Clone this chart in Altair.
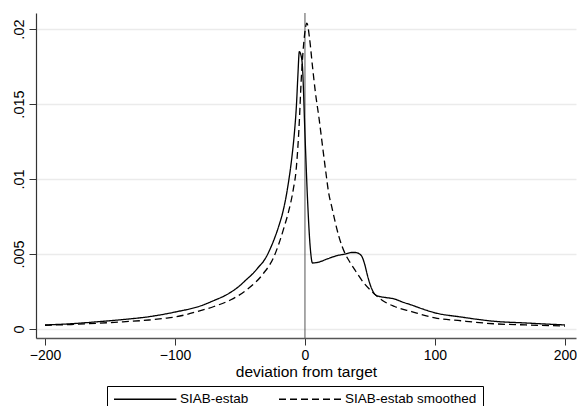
import altair as alt
import pandas as pd

series_names = ["SIAB-estab", "SIAB-estab smoothed"]

solid_x = [-200, -180, -160, -140, -120, -100, -80, -70, -60, -50, -45, -40, -35, -32,
           -25, -20, -17, -13, -10, -8, -6.5, -5.5, -4.3, -3.2, -2, 0, 2, 4, 5.8,
           10, 18, 25, 31, 36, 39, 42, 44, 46, 48, 50, 53, 56, 62, 69, 75, 82, 90,
           100, 120, 145, 170, 200]
solid_y = [0.00027, 0.00035, 0.00048, 0.00063, 0.00082, 0.00113, 0.00155, 0.0019, 0.0023,
           0.0029, 0.0033, 0.0037, 0.0042, 0.0045, 0.0057, 0.0069, 0.0078, 0.0096,
           0.0115, 0.0132, 0.0150, 0.0168, 0.0185, 0.0183, 0.0176, 0.0130, 0.0086,
           0.0055, 0.0044, 0.00445, 0.0047, 0.0049, 0.0050, 0.0051, 0.0051, 0.0050,
           0.0048, 0.0043, 0.0036, 0.0030, 0.0024, 0.0022, 0.0021, 0.0020, 0.0018,
           0.0016, 0.00135, 0.00108, 0.0008, 0.00052, 0.0004, 0.00027]

smooth_x = [-200, -180, -160, -140, -120, -108, -100, -83, -70, -57, -45, -32, -24.5,
            -20, -16, -13, -9, -6.8, -4.3, -3, -1, 1.5, 3.5, 5.8, 8, 10.9, 13.5, 16,
            18, 21, 26, 28.6, 31, 35, 38.7, 45, 51.4, 61.5, 69, 82, 100, 120, 145,
            170, 200]
smooth_y = [0.00025, 0.0003, 0.00038, 0.00048, 0.0006, 0.00071, 0.0008, 0.00116, 0.0015,
            0.00195, 0.0026, 0.0037, 0.0047, 0.0057, 0.0068, 0.0077, 0.0093, 0.0106,
            0.0139, 0.0164, 0.0190, 0.0204, 0.0194, 0.0175, 0.0158, 0.0140, 0.0122,
            0.0105, 0.0092, 0.0080, 0.0062, 0.0055, 0.0050, 0.0044, 0.0039, 0.0031,
            0.0025, 0.0018, 0.0015, 0.00116, 0.00074, 0.00055, 0.00035, 0.00027, 0.0002]

x_ticks = [-200, -100, 0, 100, 200]
y_ticks = [0, 0.005, 0.01, 0.015, 0.02]
zero_line = [0]

df = pd.concat([
    pd.DataFrame({"x": solid_x, "y": solid_y, "series": series_names[0]}),
    pd.DataFrame({"x": smooth_x, "y": smooth_y, "series": series_names[1]}),
])

FONT = "Liberation Sans"
x_scale = alt.Scale(domain=[-206.9, 208.5], nice=False, zero=False)
y_scale = alt.Scale(domain=[-0.0006, 0.02107], nice=False, zero=False)

rule = alt.Chart(pd.DataFrame({"x": zero_line})).mark_rule(
    color="#555555", strokeWidth=1
).encode(x=alt.X("x:Q", scale=x_scale))

lines = alt.Chart(df).mark_line(
    color="black", strokeWidth=1.3, interpolate="monotone"
).encode(
    x=alt.X("x:Q", scale=x_scale,
            axis=alt.Axis(values=x_ticks, title="deviation from target", grid=False,
                          tickSize=7, labelPadding=3, labelFontSize=14,
                          titleFontSize=15.5, titlePadding=2, titleFontWeight="normal",
                          domainColor="#555555", domainWidth=1.5,
                          tickColor="#333333", labelColor="black", titleColor="black",
                          labelFont=FONT, titleFont=FONT)),
    y=alt.Y("y:Q", scale=y_scale,
            axis=alt.Axis(values=y_ticks, title=None, grid=True,
                          gridColor="#ebebeb", gridWidth=1.5,
                          labelExpr="datum.value == 0 ? '0' : replace(toString(datum.value), '0.', '.')",
                          labelAngle=270, labelAlign="center", labelBaseline="bottom",
                          tickSize=7, labelPadding=3, labelFontSize=14.5,
                          domainColor="#333333", domainWidth=1.2,
                          tickColor="#333333", labelColor="black", labelFont=FONT)),
    strokeDash=alt.StrokeDash(
        "series:N",
        scale=alt.Scale(domain=series_names, range=[[1, 0], [7, 4]]),
        legend=alt.Legend(title=None, orient="none", legendX=71, legendY=373,
                          direction="horizontal", symbolType="M-1,0H9.4",
                          symbolSize=144, symbolStrokeWidth=1.3,
                          symbolStrokeColor="black", labelFontSize=13.5,
                          labelFont=FONT, labelColor="black", labelOffset=53,
                          columnPadding=27, padding=6, strokeColor="black"),
    ),
)

chart = alt.layer(rule, lines).properties(
    width=540, height=325,
    autosize=alt.AutoSizeParams(type="none"),
    padding={"left": 28, "top": 5, "right": 1, "bottom": 68},
).configure_view(stroke=None)

chart.save("out.html", embed_options={"renderer": "svg", "actions": False})
